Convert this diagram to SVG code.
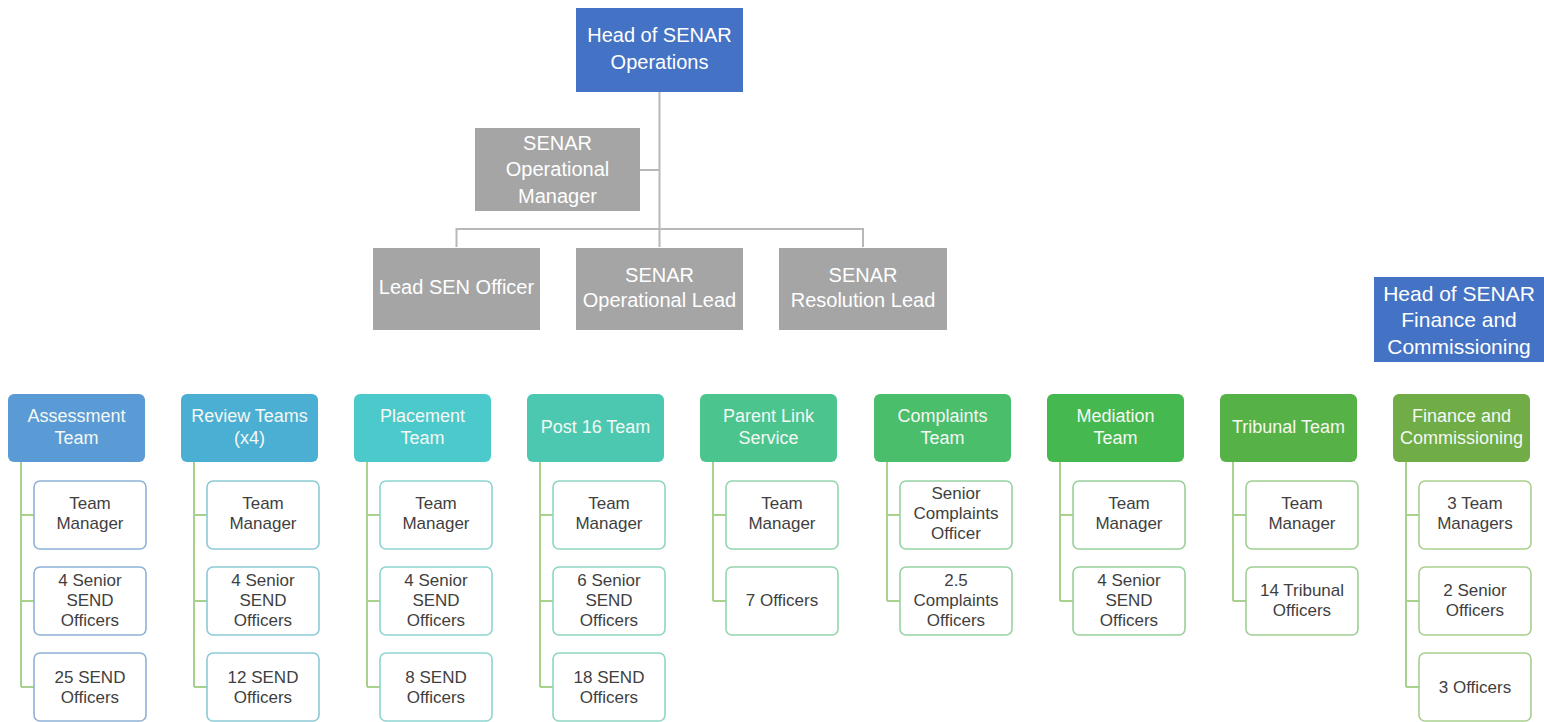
<svg xmlns="http://www.w3.org/2000/svg" width="1544" height="722" viewBox="0 0 1544 722">
<style>
text{font-family:"Liberation Sans",Arial,sans-serif;text-anchor:middle;dominant-baseline:central}
.top{fill:#4472C4}
.gray{fill:#A5A5A5}
.tw{fill:#FFFFFF;font-size:20px}
.hw{fill:#F4F8F4;font-size:18px}
.ct{fill:#3F3F3F;font-size:17px}
.child{fill:#FFFFFF;stroke-width:1.6}
.gline{fill:none;stroke:#B8B8B8;stroke-width:2}
.tline{fill:none;stroke:#A9D18E;stroke-width:2}
</style>
<rect width="1544" height="722" fill="#FFFFFF"/>
<g id="connectors">
<path class="gline" d="M659.5 92V247M640 170H659.5M456.5 247V229H863V247"/>
<path class="tline" d="M21 462V687M21 515H34M21 601H34M21 687H34"/>
<path class="tline" d="M194 462V687M194 515H207M194 601H207M194 687H207"/>
<path class="tline" d="M367 462V687M367 515H380M367 601H380M367 687H380"/>
<path class="tline" d="M540 462V687M540 515H553M540 601H553M540 687H553"/>
<path class="tline" d="M713 462V601M713 515H726M713 601H726"/>
<path class="tline" d="M887 462V601M887 515H900M887 601H900"/>
<path class="tline" d="M1060 462V601M1060 515H1073M1060 601H1073"/>
<path class="tline" d="M1233 462V601M1233 515H1246M1233 601H1246"/>
<path class="tline" d="M1406 462V687M1406 515H1419M1406 601H1419M1406 687H1419"/>
</g>
<g id="head-ops"><rect class="top" x="576" y="8" width="167" height="84"/><text class="tw" x="659.5" y="35">Head of SENAR</text><text class="tw" x="659.5" y="62">Operations</text></g>
<g id="op-manager"><rect class="gray" x="475" y="128" width="165" height="83"/><text class="tw" x="557.5" y="143">SENAR</text><text class="tw" x="557.5" y="169">Operational</text><text class="tw" x="557.5" y="196">Manager</text></g>
<g id="lead-sen"><rect class="gray" x="373" y="248" width="167" height="82"/><text class="tw" x="456.5" y="287">Lead SEN Officer</text></g>
<g id="op-lead"><rect class="gray" x="576" y="248" width="167" height="82"/><text class="tw" x="659.5" y="275">SENAR</text><text class="tw" x="659.5" y="300">Operational Lead</text></g>
<g id="res-lead"><rect class="gray" x="779" y="248" width="168" height="82"/><text class="tw" x="863" y="275">SENAR</text><text class="tw" x="863" y="300">Resolution Lead</text></g>
<g id="head-finance"><rect class="top" x="1374" y="277" width="170" height="85"/><text class="tw" x="1459" y="293" style="font-size:21px">Head of SENAR</text><text class="tw" x="1459" y="319" style="font-size:21px">Finance and</text><text class="tw" x="1459" y="346" style="font-size:21px">Commissioning</text></g>

<g id="assessment">
<rect x="8" y="394" width="137" height="68" rx="6" fill="#5A9BD5"/><text class="hw" x="76.5" y="416">Assessment</text><text class="hw" x="76.5" y="438">Team</text>
<g id="assessment-tm"><rect class="child" x="34" y="481" width="112" height="68" rx="6" stroke="#8DB2D6"/><text class="ct" x="90" y="503">Team</text><text class="ct" x="90" y="523">Manager</text></g>
<g id="assessment-sso"><rect class="child" x="34" y="567" width="112" height="68" rx="6" stroke="#8DB2D6"/><text class="ct" x="90" y="580">4 Senior</text><text class="ct" x="90" y="600">SEND</text><text class="ct" x="90" y="620">Officers</text></g>
<g id="assessment-so"><rect class="child" x="34" y="653" width="112" height="68" rx="6" stroke="#8DB2D6"/><text class="ct" x="90" y="677">25 SEND</text><text class="ct" x="90" y="697">Officers</text></g>
</g>

<g id="review">
<rect x="181" y="394" width="137" height="68" rx="6" fill="#4BAFD3"/><text class="hw" x="249.5" y="416">Review Teams</text><text class="hw" x="249.5" y="438">(x4)</text>
<g id="review-tm"><rect class="child" x="207" y="481" width="112" height="68" rx="6" stroke="#8CCAD6"/><text class="ct" x="263" y="503">Team</text><text class="ct" x="263" y="523">Manager</text></g>
<g id="review-sso"><rect class="child" x="207" y="567" width="112" height="68" rx="6" stroke="#8CCAD6"/><text class="ct" x="263" y="580">4 Senior</text><text class="ct" x="263" y="600">SEND</text><text class="ct" x="263" y="620">Officers</text></g>
<g id="review-so"><rect class="child" x="207" y="653" width="112" height="68" rx="6" stroke="#8CCAD6"/><text class="ct" x="263" y="677">12 SEND</text><text class="ct" x="263" y="697">Officers</text></g>
</g>

<g id="placement">
<rect x="354" y="394" width="137" height="68" rx="6" fill="#4CC9CB"/><text class="hw" x="422.5" y="416">Placement</text><text class="hw" x="422.5" y="438">Team</text>
<g id="placement-tm"><rect class="child" x="380" y="481" width="112" height="68" rx="6" stroke="#8DD5D2"/><text class="ct" x="436" y="503">Team</text><text class="ct" x="436" y="523">Manager</text></g>
<g id="placement-sso"><rect class="child" x="380" y="567" width="112" height="68" rx="6" stroke="#8DD5D2"/><text class="ct" x="436" y="580">4 Senior</text><text class="ct" x="436" y="600">SEND</text><text class="ct" x="436" y="620">Officers</text></g>
<g id="placement-so"><rect class="child" x="380" y="653" width="112" height="68" rx="6" stroke="#8DD5D2"/><text class="ct" x="436" y="677">8 SEND</text><text class="ct" x="436" y="697">Officers</text></g>
</g>

<g id="post16">
<rect x="527" y="394" width="137" height="68" rx="6" fill="#4CC8B0"/><text class="hw" x="595.5" y="427">Post 16 Team</text>
<g id="post16-tm"><rect class="child" x="553" y="481" width="112" height="68" rx="6" stroke="#8ED6C2"/><text class="ct" x="609" y="503">Team</text><text class="ct" x="609" y="523">Manager</text></g>
<g id="post16-sso"><rect class="child" x="553" y="567" width="112" height="68" rx="6" stroke="#8ED6C2"/><text class="ct" x="609" y="580">6 Senior</text><text class="ct" x="609" y="600">SEND</text><text class="ct" x="609" y="620">Officers</text></g>
<g id="post16-so"><rect class="child" x="553" y="653" width="112" height="68" rx="6" stroke="#8ED6C2"/><text class="ct" x="609" y="677">18 SEND</text><text class="ct" x="609" y="697">Officers</text></g>
</g>

<g id="parent-link">
<rect x="700" y="394" width="137" height="68" rx="6" fill="#4CC48E"/><text class="hw" x="768.5" y="416">Parent Link</text><text class="hw" x="768.5" y="438">Service</text>
<g id="parent-link-tm"><rect class="child" x="726" y="481" width="112" height="68" rx="6" stroke="#94D5AE"/><text class="ct" x="782" y="503">Team</text><text class="ct" x="782" y="523">Manager</text></g>
<g id="parent-link-o"><rect class="child" x="726" y="567" width="112" height="68" rx="6" stroke="#94D5AE"/><text class="ct" x="782" y="600">7 Officers</text></g>
</g>

<g id="complaints">
<rect x="874" y="394" width="137" height="68" rx="6" fill="#4BBE6C"/><text class="hw" x="942.5" y="416">Complaints</text><text class="hw" x="942.5" y="438">Team</text>
<g id="complaints-sco"><rect class="child" x="900" y="481" width="112" height="68" rx="6" stroke="#96D3A2"/><text class="ct" x="956" y="493">Senior</text><text class="ct" x="956" y="513">Complaints</text><text class="ct" x="956" y="533">Officer</text></g>
<g id="complaints-co"><rect class="child" x="900" y="567" width="112" height="68" rx="6" stroke="#96D3A2"/><text class="ct" x="956" y="580">2.5</text><text class="ct" x="956" y="600">Complaints</text><text class="ct" x="956" y="620">Officers</text></g>
</g>

<g id="mediation">
<rect x="1047" y="394" width="137" height="68" rx="6" fill="#45B84F"/><text class="hw" x="1115.5" y="416">Mediation</text><text class="hw" x="1115.5" y="438">Team</text>
<g id="mediation-tm"><rect class="child" x="1073" y="481" width="112" height="68" rx="6" stroke="#98D09A"/><text class="ct" x="1129" y="503">Team</text><text class="ct" x="1129" y="523">Manager</text></g>
<g id="mediation-sso"><rect class="child" x="1073" y="567" width="112" height="68" rx="6" stroke="#98D09A"/><text class="ct" x="1129" y="580">4 Senior</text><text class="ct" x="1129" y="600">SEND</text><text class="ct" x="1129" y="620">Officers</text></g>
</g>

<g id="tribunal">
<rect x="1220" y="394" width="137" height="68" rx="6" fill="#56B146"/><text class="hw" x="1288.5" y="427">Tribunal Team</text>
<g id="tribunal-tm"><rect class="child" x="1246" y="481" width="112" height="68" rx="6" stroke="#9DCF93"/><text class="ct" x="1302" y="503">Team</text><text class="ct" x="1302" y="523">Manager</text></g>
<g id="tribunal-o"><rect class="child" x="1246" y="567" width="112" height="68" rx="6" stroke="#9DCF93"/><text class="ct" x="1302" y="590">14 Tribunal</text><text class="ct" x="1302" y="610">Officers</text></g>
</g>

<g id="finance">
<rect x="1393" y="394" width="137" height="68" rx="6" fill="#70AD47"/><text class="hw" x="1461.5" y="416">Finance and</text><text class="hw" x="1461.5" y="438">Commissioning</text>
<g id="finance-tm"><rect class="child" x="1419" y="481" width="112" height="68" rx="6" stroke="#A9CF8E"/><text class="ct" x="1475" y="503">3 Team</text><text class="ct" x="1475" y="523">Managers</text></g>
<g id="finance-so"><rect class="child" x="1419" y="567" width="112" height="68" rx="6" stroke="#A9CF8E"/><text class="ct" x="1475" y="590">2 Senior</text><text class="ct" x="1475" y="610">Officers</text></g>
<g id="finance-o"><rect class="child" x="1419" y="653" width="112" height="68" rx="6" stroke="#A9CF8E"/><text class="ct" x="1475" y="687">3 Officers</text></g>
</g>
</svg>
